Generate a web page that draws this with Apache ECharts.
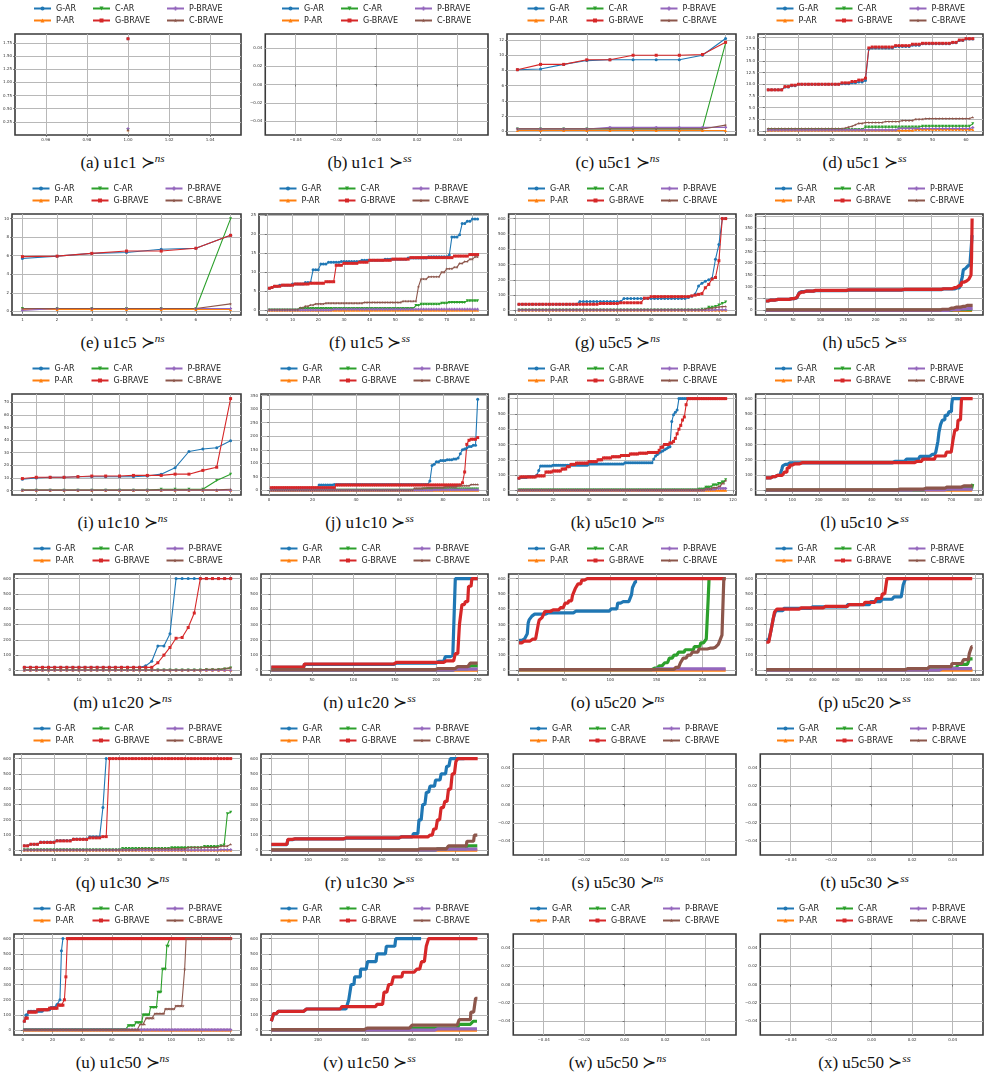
<!DOCTYPE html>
<html>
<head>
<meta charset="utf-8">
<script src="https://cdn.jsdelivr.net/npm/echarts@6/dist/echarts.min.js"></script>
<style>
  body { margin: 0; background: #fff; }
  #page { position: relative; width: 989px; height: 1092px; overflow: hidden; }
  .chart { position: absolute; width: 247px; height: 150px; }
  .cap { position: absolute; width: 245px; text-align: center; font-family: 'Liberation Serif', 'DejaVu Serif', serif;
         font-size: 17px; line-height: 20px; color: #111; white-space: nowrap; }
  .cap sup { font-style: italic; font-size: 11px; vertical-align: 6px; line-height: 0; }
</style>
</head>
<body>
<div id="page"></div>
<script>
// series order follows the legend: G-AR, P-AR, C-AR, G-BRAVE, P-BRAVE, C-BRAVE
// values are runs: a number is one point, [y, n] repeats y for n consecutive points (x = 1, 2, ...)
const NAMES = ['G-AR', 'P-AR', 'C-AR', 'G-BRAVE', 'P-BRAVE', 'C-BRAVE'];
const COLORS = ['#1f77b4', '#ff7f0e', '#2ca02c', '#d62728', '#9467bd', '#8c564b'];

// (a) u1c1 ns
const a_xTicks = [0.96, 0.98, 1.00, 1.02, 1.04];
const a_yTicks = [0.25, 0.50, 0.75, 1.00, 1.25, 1.50, 1.75];
const a_GAR = [1.83], a_PAR = [0.1], a_CAR = [0.1], a_GBRAVE = [1.83], a_PBRAVE = [0.12], a_CBRAVE = [0.09];

// empty panels (b, s, t, w, x)
const empty_ticks = [-0.04, -0.02, 0.00, 0.02, 0.04];

// (c) u5c1 ns
const c_xTicks = [2, 4, 6, 8, 10];
const c_yTicks = [0, 2, 4, 6, 8, 10, 12];
const c_GAR = [8.1, 8.2, 8.8, 9.3, 9.4, 9.4, 9.4, 9.4, 10.0, 12.2];
const c_PAR = [[0.1, 10]];
const c_CAR = [[0.3, 9], 11.6];
const c_GBRAVE = [8.1, 8.8, 8.8, 9.4, 9.4, 10.0, 10.0, 10.0, 10.1, 11.7];
const c_PBRAVE = [0.3, 0.3, 0.3, 0.3, 0.5, 0.5, 0.5, 0.5, 0.5, 0.5];
const c_CBRAVE = [[0.3, 9], 0.8];

// (d) u5c1 ss
const d_xTicks = [0, 10, 20, 30, 40, 50, 60];
const d_yTicks = [0, 2.5, 5, 7.5, 10, 12.5, 15, 17.5, 20];
const d_GAR = [[8.8, 5], [9.4, 2], [9.7, 2], [10.0, 13], [10.1, 3], [10.3, 2], [10.5, 2], 10.8, 17.6,
  [17.8, 7], [18.1, 5], [18.4, 3], [18.7, 9], [18.9, 2], [19.4, 2], [19.7, 3]];
const d_PAR = [[0.1, 44], [0.3, 18]];
const d_CAR = [[0.3, 29], [0.8, 17], [1.0, 15], 1.5];
const d_GBRAVE = [[8.8, 5], [9.5, 2], [9.8, 2], [10.0, 13], [10.3, 3], [10.6, 2], [10.9, 2], 11.3, 17.8,
  [18.0, 7], [18.3, 5], [18.6, 3], [18.8, 9], [19.0, 2], [19.5, 2], [19.8, 3]];
const d_PBRAVE = [[0.2, 39], [0.5, 22], 0.7];
const d_CBRAVE = [[0.5, 23], 0.6, 0.8, 1.0, 1.3, [1.6, 2], [1.8, 6], [2.0, 5], [2.2, 4], [2.5, 3], [2.65, 14], 2.9];

// (e) u1c5 ns
const e_xTicks = [1, 2, 3, 4, 5, 6, 7];
const e_yTicks = [0, 2, 4, 6, 8, 10];
const e_GAR = [5.7, 5.95, 6.25, 6.35, 6.7, 6.8, 8.2];
const e_PAR = [[0.2, 7]];
const e_CAR = [[0.3, 6], 10.0];
const e_GBRAVE = [5.9, 5.95, 6.25, 6.5, 6.5, 6.8, 8.2];
const e_PBRAVE = [0.1, [0.3, 6]];
const e_CBRAVE = [[0.3, 6], 0.8];

// (f) u1c5 ss
const f_xTicks = [0, 10, 20, 30, 40, 50, 60, 70, 80];
const f_yTicks = [0, 5, 10, 15, 20, 25];
const f_GAR = [5.8, 6.0, [6.3, 2], [6.6, 5], [6.9, 5], [7.3, 3], [10.6, 3], [12.1, 3], [12.6, 5], [12.8, 8], [13.1, 9],
  [13.4, 9], [13.7, 8], [14.0, 8], 14.5, [19.2, 3], 19.8, [22.7, 2], [23.3, 2], [23.9, 3]];
const f_PAR = [[0.05, 82]];
const f_CAR = [[0.1, 12], [0.5, 45], [1.3, 2], [1.6, 8], [1.9, 3], [2.1, 7], [2.5, 5]];
const f_GBRAVE = [5.8, 6.0, [6.3, 3], [6.6, 5], [6.9, 6], [7.1, 6], [7.5, 4], [11.8, 3], [12.3, 6], [12.6, 4], [13.1, 9],
  [13.4, 7], [13.8, 17], [14.2, 6], [14.6, 4]];
const f_PBRAVE = [[0.1, 25], [0.3, 57]];
const f_CBRAVE = [[0.2, 12], [0.7, 2], [1.1, 2], [1.4, 2], [1.7, 4], [1.9, 15], [2.1, 15], [2.4, 6], 6.2, [8.2, 3], [8.8, 5],
  [10.0, 2], [10.9, 3], [11.3, 2], [12.3, 2], [12.8, 2], [13.4, 2], [14.0, 2]];

// (g) u5c5 ns
const g_xTicks = [0, 10, 20, 30, 40, 50, 60];
const t600 = [0, 100, 200, 300, 400, 500, 600];
const g_GAR = [[40, 18], [58, 13], [78, 19], 85, 92, 108, 160, 178, 190, 200, 210, 335, 430, [600, 2]];
const g_PAR = [[1, 62]];
const g_CAR = [[3, 54], [8, 2], [20, 2], 25, 35, 45, 55];
const g_GBRAVE = [[40, 24], [45, 6], [50, 7], [80, 2], [90, 12], 95, 100, 105, 110, 148, 170, 205, 215, 325, [600, 2]];
const g_PBRAVE = [[2, 58], [4, 4]];
const g_CBRAVE = [[4, 55], 8, 12, 15, 18, 22, 25, 26];

// (h) u5c5 ss
const h_xTicks = [0, 50, 100, 150, 200, 250, 300, 350];
const h_yTicks = [0, 50, 100, 150, 200, 250, 300, 350, 400];
const h_GAR = [[40, 5], [44, 15], [47, 25], [50, 7], [53, 5], [60, 3], [75, 3], [80, 7], [82, 20], [84, 60], [86, 100],
  [88, 70], [91, 25], [96, 7], [105, 4], [140, 2], [172, 4], [178, 4], [188, 4], [195, 3], 200, 320];
const h_PAR = [[0.5, 376]];
const h_CAR = [[1, 340], [3, 36]];
const h_GBRAVE = [[40, 5], [44, 15], [47, 25], [50, 7], [55, 5], [63, 3], [72, 3], [78, 7], [82, 20], [85, 60], [87, 100],
  [89, 70], [92, 20], [97, 10], [105, 5], [120, 5], [125, 8], [132, 4], 150, 225, [390, 2]];
const h_PBRAVE = [[0.5, 335], [3, 15], [6, 15], [8, 11]];
const h_CBRAVE = [[2, 320], [5, 15], [10, 10], [14, 10], [17, 10], [21, 11]];

// (i) u1c10 ns
const i_xTicks = [2, 4, 6, 8, 10, 12, 14, 16];
const i_yTicks = [0, 10, 20, 30, 40, 50, 60, 70];
const i_GAR = [9, 10, 10.5, 10.5, 11, 11, 11, 11, 11, 11.5, 13, 18, 31, 33, 34, 39.5];
const i_PAR = [[0.1, 16]];
const i_CAR = [[0.3, 10], 1, 1, 1, 1, 8, 13];
const i_GBRAVE = [9.5, 10.5, 10.5, 10.5, 11, 11.5, 11.5, 11.5, 12, 12, 12, 13, 13, 16, 18.5, 73];
const i_PBRAVE = [[0.2, 15], 0.3];
const i_CBRAVE = [[0.3, 10], [0.5, 5], 1];

// (j) u1c10 ss
const j_xTicks = [0, 20, 40, 60, 80, 100];
const j_yTicks = [0, 50, 100, 150, 200, 250, 300, 350];
const j_GAR = [[8, 22], [20, 7], [22, 44], 35, 92, 97, [106, 2], [110, 3], [113, 3], [116, 2], 120, 135, 150, 153, 157,
  [162, 2], [167, 2], 337];
const j_PAR = [[0.2, 96]];
const j_CAR = [[0.5, 70], [5, 26]];
const j_GBRAVE = [[10, 30], [20, 58], 28, 68, 170, 185, [189, 3], 195];
const j_PBRAVE = [[0.3, 75], [2, 21]];
const j_CBRAVE = [[1, 66], [8, 6], [10, 8], [13, 6], [17, 6], [22, 4]];

// (k) u5c10 ns
const k_xTicks = [0, 20, 40, 60, 80, 100, 120];
const k_GAR = [80, [85, 4], [90, 5], 100, 130, [160, 7], [165, 20], [172, 20], [180, 16], 205, 225, 235, 245, 252, 258,
  265, 272, 280, 285, 450, 495, 510, 525, [600, 5]];
const k_PAR = [[1, 116]];
const k_CAR = [[2, 100], [8, 4], [20, 4], [35, 3], [45, 2], [55, 2], 70];
const k_GBRAVE = [80, [88, 9], [95, 5], [120, 4], [127, 5], [140, 3], [155, 2], [170, 3], [178, 7], [188, 5], [200, 3],
  [212, 5], [220, 5], [228, 5], [238, 5], [243, 5], [248, 6], 262, [282, 2], [300, 3], [310, 2], 320, 340, 370, 400,
  425, 460, 480, 560, [600, 22]];
const k_PBRAVE = [[1, 104], [7, 6], [13, 6]];
const k_CBRAVE = [[3, 104], [10, 4], [18, 3], [28, 2], [45, 2], 65];

// (l) u5c10 ss
const l_xTicks = [0, 100, 200, 300, 400, 500, 600, 700, 800];
const l_GAR = [[82, 20], [90, 20], [98, 20], [140, 3], [160, 7], [170, 20], [180, 390], [190, 50], [205, 50], [222, 40],
  [235, 20], [250, 8], [320, 4], [380, 6], [430, 7], [460, 10], [490, 15], [515, 10], [560, 3], [600, 37]];
const l_PAR = [[1, 780]];
const l_CAR = [[2, 600], [6, 100], [12, 78], 25, 42];
const l_GBRAVE = [[82, 20], [90, 20], [98, 30], [120, 10], [148, 10], [165, 10], [174, 30], [181, 430], [190, 30],
  [205, 50], [225, 40], [250, 25], [330, 7], [395, 12], [460, 13], [600, 43]];
const l_PBRAVE = [[1, 550], [4, 130], [9, 100]];
const l_CBRAVE = [[3, 500], [8, 100], [15, 80], [22, 60], [30, 40]];

// (m) u1c20 ns
const m_xTicks = [5, 10, 15, 20, 25, 30, 35];
const m_GAR = [[20, 20], 30, 60, [160, 2], 240, [600, 10]];
const m_PAR = [[0.5, 35]];
const m_CAR = [[2, 30], [5, 3], 10, 15];
const m_GBRAVE = [[20, 22], 50, 100, 150, 210, 215, 280, 375, [600, 6]];
const m_PBRAVE = [[1, 35]];
const m_CBRAVE = [[3, 30], [8, 3], 12, 18];

// (n) u1c20 ss
const n_xTicks = [0, 50, 100, 150, 200, 250];
const n_GAR = [[20, 40], [40, 110], [48, 50], [60, 10], [90, 8], [100, 4], [600, 28]];
const n_PAR = [[1, 250]];
const n_CAR = [[2, 220], [10, 20], [30, 10]];
const n_GBRAVE = [[22, 40], [42, 110], [52, 60], [62, 12], [110, 5], [300, 3], [430, 4], [450, 4], [550, 4], [600, 8]];
const n_PBRAVE = [[1, 220], [8, 30]];
const n_CBRAVE = [[5, 200], [12, 25], [25, 15], [48, 10]];

// (o) u5c20 ns
const o_xTicks = [0, 50, 100, 150, 200];
const o_GAR = [[196, 5], [205, 4], 240, 310, [330, 3], [355, 3], [368, 13], [376, 30], [388, 40], [402, 7], [440, 6],
  [450, 7], [460, 2], 495, [540, 3], [580, 3]];
const o_PAR = [[2, 225]];
const o_CAR = [[5, 145], [15, 7], [30, 6], [50, 5], [80, 5], [100, 5], [120, 7], [135, 10], [155, 7], [180, 6], [205, 2],
  460, 600];
const o_GBRAVE = [[180, 5], [192, 10], [205, 6], 305, [330, 3], [345, 3], [385, 7], [395, 10], [410, 5], [440, 4],
  [455, 4], [490, 3], [535, 3], [565, 4], [590, 5], [600, 152]];
const o_PBRAVE = [[5, 150], [10, 75]];
const o_CBRAVE = [[6, 170], [20, 5], [50, 3], [80, 5], [100, 5], [120, 7], [140, 10], [145, 7], [152, 4], [170, 2],
  [200, 2], [230, 2], [600, 3]];

// (p) u5c20 ss
const p_xTicks = [0, 200, 400, 600, 800, 1000, 1200, 1400, 1600, 1800];
const p_GAR = [[200, 40], [260, 20], [340, 20], [390, 70], [405, 250], [415, 300], [430, 200], [450, 100], [465, 100],
  [480, 80], [560, 20], [600, 40]];
const p_PAR = [[1, 1780]];
const p_CAR = [[3, 1500], [15, 150], [40, 100], [75, 30]];
const p_GBRAVE = [[185, 30], [220, 20], [300, 20], [380, 20], [400, 210], [408, 200], [418, 200], [430, 150], [445, 100],
  [470, 50], [500, 40], [600, 740]];
const p_PBRAVE = [[2, 1500], [12, 280]];
const p_CBRAVE = [[5, 1200], [12, 200], [25, 200], [45, 100], [70, 50], [110, 20], [155, 10]];

// (q) u1c30 ns
const q_xTicks = [0, 10, 20, 30, 40, 50, 60];
const q_GAR = [[30, 2], [40, 3], [55, 5], [65, 5], [75, 5], [90, 4], 280, 600];
const q_PAR = [[1, 64]];
const q_CAR = [[5, 30], [12, 15], [18, 10], [25, 5], 30, 35, 240, 250];
const q_GBRAVE = [[30, 2], [40, 3], [52, 5], [62, 5], [72, 5], [82, 4], [90, 2], [600, 38]];
const q_PBRAVE = [[2, 60], [5, 4]];
const q_CBRAVE = [[3, 35], [10, 15], [20, 10], [28, 3], 40];

// (r) u1c30 ss
const r_xTicks = [0, 100, 200, 300, 400, 500];
const r_GAR = [[38, 45], [70, 15], [75, 140], [80, 150], [88, 35], [110, 15], [200, 10], [300, 10], [380, 10], [420, 15],
  [460, 15], [500, 15], [550, 10], [600, 40]];
const r_PAR = [[1, 560]];
const r_CAR = [[2, 450], [10, 80], [30, 30]];
const r_GBRAVE = [[40, 45], [72, 15], [76, 140], [82, 150], [88, 80], [100, 10], [140, 10], [200, 10], [280, 10],
  [320, 10], [400, 10], [500, 10], [580, 5], [600, 55]];
const r_PBRAVE = [[1, 450], [8, 110]];
const r_CBRAVE = [[3, 400], [10, 80], [30, 50], [60, 20], [100, 10]];

// (u) u1c50 ns
const u_xTicks = [0, 20, 40, 60, 80, 100, 120, 140];
const u_GAR = [60, [100, 2], [125, 10], [135, 5], [150, 4], [170, 2], 200, 520, 600];
const u_PAR = [[2, 140]];
const u_CAR = [[5, 70], [30, 5], [50, 5], [100, 5], [150, 5], [250, 3], [400, 3], [550, 2], [600, 2]];
const u_GBRAVE = [60, [80, 2], [120, 6], [135, 8], [145, 6], [165, 4], 200, 350, [600, 111]];
const u_PBRAVE = [[5, 140]];
const u_CBRAVE = [[5, 78], [40, 4], [80, 6], [110, 7], [140, 7], [160, 6], 400, [600, 31]];

// (v) u1c50 ss
const v_xTicks = [0, 200, 400, 600, 800];
const v_GAR = [[60, 10], [110, 20], [125, 120], [140, 180], [200, 10], [300, 15], [350, 25], [400, 30], [450, 40],
  [500, 40], [550, 40], [600, 110]];
const v_PAR = [[1, 880]];
const v_CAR = [[3, 600], [15, 200], [40, 60], [60, 20]];
const v_GBRAVE = [[60, 10], [110, 20], [125, 120], [140, 150], [155, 150], [170, 30], [250, 20], [300, 20], [350, 40],
  [380, 60], [400, 20], [450, 20], [550, 10], [600, 210]];
const v_PBRAVE = [[2, 700], [10, 180]];
const v_CBRAVE = [[5, 400], [15, 200], [35, 200], [70, 50], [120, 20], [210, 10]];

const EMPTY = null;
const panels = [
  { tag: '(a) u1c1', rel: 'ns', left: 15, xr: [0.945, 1.055], xt: a_xTicks, xd: 2, yr: [0.0, 1.92], yt: a_yTicks, yd: 2,
    data: [a_GAR, a_PAR, a_CAR, a_GBRAVE, a_PBRAVE, a_CBRAVE] },
  { tag: '(b) u1c1', rel: 'ss', left: 17, data: EMPTY },
  { tag: '(c) u5c1', rel: 'ns', left: 12, xr: [0.55, 10.45], xt: c_xTicks, xd: 0, yr: [-0.5, 12.8], yt: c_yTicks, yd: 0,
    data: [c_GAR, c_PAR, c_CAR, c_GBRAVE, c_PBRAVE, c_CBRAVE] },
  { tag: '(d) u5c1', rel: 'ss', left: 16, xr: [-2.05, 65.05], xt: d_xTicks, xd: 0, yr: [-0.9, 20.8], yt: d_yTicks, yd: 1,
    data: [d_GAR, d_PAR, d_CAR, d_GBRAVE, d_PBRAVE, d_CBRAVE] },
  { tag: '(e) u1c5', rel: 'ns', left: 12, xr: [0.7, 7.3], xt: e_xTicks, xd: 0, yr: [-0.4, 10.5], yt: e_yTicks, yd: 0,
    data: [e_GAR, e_PAR, e_CAR, e_GBRAVE, e_PBRAVE, e_CBRAVE] },
  { tag: '(f) u1c5', rel: 'ss', left: 12, xr: [-3.05, 86.05], xt: f_xTicks, xd: 0, yr: [-1.2, 25.2], yt: f_yTicks, yd: 0,
    data: [f_GAR, f_PAR, f_CAR, f_GBRAVE, f_PBRAVE, f_CBRAVE] },
  { tag: '(g) u5c5', rel: 'ns', left: 13, xr: [-2.05, 65.05], xt: g_xTicks, xd: 0, yr: [-30, 630], yt: t600, yd: 0,
    data: [g_GAR, g_PAR, g_CAR, g_GBRAVE, g_PBRAVE, g_CBRAVE] },
  { tag: '(h) u5c5', rel: 'ss', left: 13, dense: true, xr: [-17.75, 394.75], xt: h_xTicks, xd: 0, yr: [-19.5, 409.5], yt: h_yTicks, yd: 0,
    data: [h_GAR, h_PAR, h_CAR, h_GBRAVE, h_PBRAVE, h_CBRAVE] },
  { tag: '(i) u1c10', rel: 'ns', left: 12, xr: [0.25, 16.75], xt: i_xTicks, xd: 0, yr: [-3.55, 76.65], yt: i_yTicks, yd: 0,
    data: [i_GAR, i_PAR, i_CAR, i_GBRAVE, i_PBRAVE, i_CBRAVE] },
  { tag: '(j) u1c10', rel: 'ss', left: 14, xr: [-3.75, 100.75], xt: j_xTicks, xd: 0, yr: [-17, 356], yt: j_yTicks, yd: 0,
    data: [j_GAR, j_PAR, j_CAR, j_GBRAVE, j_PBRAVE, j_CBRAVE] },
  { tag: '(k) u5c10', rel: 'ns', left: 13, xr: [-4.75, 121.75], xt: k_xTicks, xd: 0, yr: [-30, 630], yt: t600, yd: 0,
    data: [k_GAR, k_PAR, k_CAR, k_GBRAVE, k_PBRAVE, k_CBRAVE] },
  { tag: '(l) u5c10', rel: 'ss', left: 13, dense: true, xr: [-38, 819], xt: l_xTicks, xd: 0, yr: [-30, 630], yt: t600, yd: 0,
    data: [l_GAR, l_PAR, l_CAR, l_GBRAVE, l_PBRAVE, l_CBRAVE] },
  { tag: '(m) u1c20', rel: 'ns', left: 14, xr: [-0.7, 36.7], xt: m_xTicks, xd: 0, yr: [-30, 630], yt: t600, yd: 0,
    data: [m_GAR, m_PAR, m_CAR, m_GBRAVE, m_PBRAVE, m_CBRAVE] },
  { tag: '(n) u1c20', rel: 'ss', left: 14, dense: true, xr: [-11.45, 262.45], xt: n_xTicks, xd: 0, yr: [-30, 630], yt: t600, yd: 0,
    data: [n_GAR, n_PAR, n_CAR, n_GBRAVE, n_PBRAVE, n_CBRAVE] },
  { tag: '(o) u5c20', rel: 'ns', left: 13, dense: true, xr: [-10.2, 236.2], xt: o_xTicks, xd: 0, yr: [-30, 630], yt: t600, yd: 0,
    data: [o_GAR, o_PAR, o_CAR, o_GBRAVE, o_PBRAVE, o_CBRAVE] },
  { tag: '(p) u5c20', rel: 'ss', left: 14, dense: true, xr: [-88, 1869], xt: p_xTicks, xd: 0, yr: [-30, 630], yt: t600, yd: 0,
    data: [p_GAR, p_PAR, p_CAR, p_GBRAVE, p_PBRAVE, p_CBRAVE] },
  { tag: '(q) u1c30', rel: 'ns', left: 14, xr: [-2.15, 67.15], xt: q_xTicks, xd: 0, yr: [-30, 630], yt: t600, yd: 0,
    data: [q_GAR, q_PAR, q_CAR, q_GBRAVE, q_PBRAVE, q_CBRAVE] },
  { tag: '(r) u1c30', rel: 'ss', left: 14, dense: true, xr: [-27, 588], xt: r_xTicks, xd: 0, yr: [-30, 630], yt: t600, yd: 0,
    data: [r_GAR, r_PAR, r_CAR, r_GBRAVE, r_PBRAVE, r_CBRAVE] },
  { tag: '(s) u5c30', rel: 'ns', left: 17, data: EMPTY },
  { tag: '(t) u5c30', rel: 'ss', left: 17, data: EMPTY },
  { tag: '(u) u1c50', rel: 'ns', left: 14, xr: [-5.95, 146.95], xt: u_xTicks, xd: 0, yr: [-30, 630], yt: t600, yd: 0,
    data: [u_GAR, u_PAR, u_CAR, u_GBRAVE, u_PBRAVE, u_CBRAVE] },
  { tag: '(v) u1c50', rel: 'ss', left: 14, dense: true, xr: [-42.95, 923.95], xt: v_xTicks, xd: 0, yr: [-30, 630], yt: t600, yd: 0,
    data: [v_GAR, v_PAR, v_CAR, v_GBRAVE, v_PBRAVE, v_CBRAVE] },
  { tag: '(w) u5c50', rel: 'ns', left: 17, data: EMPTY },
  { tag: '(x) u5c50', rel: 'ss', left: 17, data: EMPTY },
];

const COL_X = [0, 247, 495, 742];
const ROW_Y = [0, 180, 360, 540, 720, 900];
const PLUS = 'path://M3,0H7V3H10V7H7V10H3V7H0V3H3Z';
const STAR = 'path://M5,0L6.2,3.6L10,3.6L6.9,5.9L8.1,9.5L5,7.3L1.9,9.5L3.1,5.9L0,3.6L3.8,3.6Z';
const SYMBOLS = ['circle', 'triangle', 'triangle', 'rect', PLUS, STAR];

function expand(runs) {
  const out = [];
  let x = 1;
  runs.forEach((r) => {
    const y = Array.isArray(r) ? r[0] : r;
    const n = Array.isArray(r) ? r[1] : 1;
    for (let i = 0; i < n; i += 1) { out.push([x, y]); x += 1; }
  });
  return out;
}

function tickFmt(dec) {
  return (v) => (v < -1e-9 ? '\u2212' : '') + Math.abs(v).toFixed(dec);
}

function makeAxis(range, ticks, dec) {
  return {
    type: 'value',
    min: range[0],
    max: range[1],
    axisLine: { show: false },
    axisTick: { show: true, length: 2, customValues: ticks, lineStyle: { color: '#444', width: 0.6 } },
    axisLabel: { customValues: ticks, formatter: tickFmt(dec), fontSize: 4, color: '#333', margin: 3, fontFamily: 'DejaVu Sans' },
    splitLine: { show: true, lineStyle: { color: '#b8b8b8', width: 1 } },
  };
}

const page = document.getElementById('page');
panels.forEach((p, idx) => {
  const px = COL_X[idx % 4];
  const py = ROW_Y[Math.floor(idx / 4)];
  const el = document.createElement('div');
  el.className = 'chart';
  el.style.left = px + 'px';
  el.style.top = py + 'px';
  page.appendChild(el);

  const cap = document.createElement('div');
  cap.className = 'cap';
  cap.style.left = px + 'px';
  cap.style.top = (py + 153) + 'px';
  cap.innerHTML = p.tag + ' \u227B<sup>' + p.rel + '</sup>';
  page.appendChild(cap);

  const empty = p.data === EMPTY;
  const xr = empty ? [-0.055, 0.055] : p.xr;
  const yr = empty ? [-0.055, 0.055] : p.yr;
  const xt = empty ? empty_ticks : p.xt;
  const yt = empty ? empty_ticks : p.yt;
  const xd = empty ? 2 : p.xd;
  const yd = empty ? 2 : p.yd;
  const right = 6;
  const cx = p.left + (247 - right - p.left) / 2;
  const lx = cx - 95;
  const legendBase = {
    orient: 'vertical', top: 4, padding: 0, itemGap: 3, itemWidth: 17, itemHeight: 5, selectedMode: false,
    textStyle: { fontSize: 8, fontFamily: 'DejaVu Sans', color: '#222', lineHeight: 9 },
  };

  const chart = echarts.init(el, null, { renderer: 'canvas' });
  chart.setOption({
    animation: false,
    grid: { left: p.left, right, top: 34, height: 101, show: true, borderColor: '#3a3a3a', borderWidth: 1.6, backgroundColor: '#fff' },
    legend: [
      Object.assign({ data: ['G-AR', 'P-AR'], left: lx }, legendBase),
      Object.assign({ data: ['C-AR', 'G-BRAVE'], left: lx + 59 }, legendBase),
      Object.assign({ data: ['P-BRAVE', 'C-BRAVE'], left: lx + 133 }, legendBase),
    ],
    xAxis: makeAxis(xr, xt, xd),
    yAxis: makeAxis(yr, yt, yd),
    series: NAMES.map((name, i) => ({
      type: 'line',
      name,
      data: empty ? [] : expand(p.data[i]),
      symbol: SYMBOLS[i],
      symbolRotate: i === 2 ? 180 : 0,
      symbolSize: 3,
      showSymbol: !p.dense,
      lineStyle: { width: p.dense ? 3.2 : 1.1, color: COLORS[i] },
      itemStyle: { color: COLORS[i] },
      emphasis: { disabled: true },
      silent: true,
    })),
  });
});
</script>
</body>
</html>
